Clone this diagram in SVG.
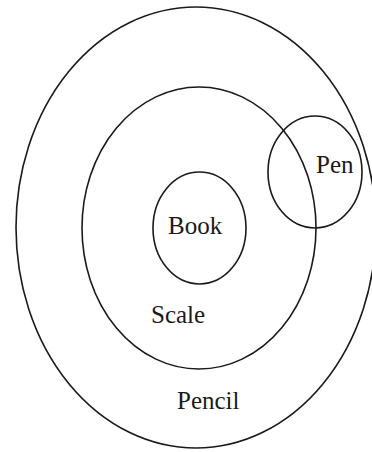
<svg xmlns="http://www.w3.org/2000/svg" width="372" height="452" viewBox="0 0 372 452">
<style>
.s{fill:none;stroke:#1a1a1a;stroke-width:1.6}
text{font-family:"Liberation Serif","Times New Roman",serif;font-size:25px;fill:#1a1a1a}
</style>
<rect width="372" height="452" fill="#fff"/>
<g id="pencil"><ellipse class="s" cx="196" cy="227.5" rx="180" ry="220.5"/><text x="177" y="409">Pencil</text></g>
<g id="scale"><ellipse class="s" cx="199" cy="228" rx="117" ry="141"/><text x="151" y="323">Scale</text></g>
<g id="book"><ellipse class="s" cx="199.5" cy="228" rx="46.5" ry="56"/><text x="168" y="234">Book</text></g>
<g id="pen"><ellipse class="s" cx="315" cy="172" rx="47" ry="56"/><text x="316" y="173">Pen</text></g>
<g id="connectors"/>
</svg>
